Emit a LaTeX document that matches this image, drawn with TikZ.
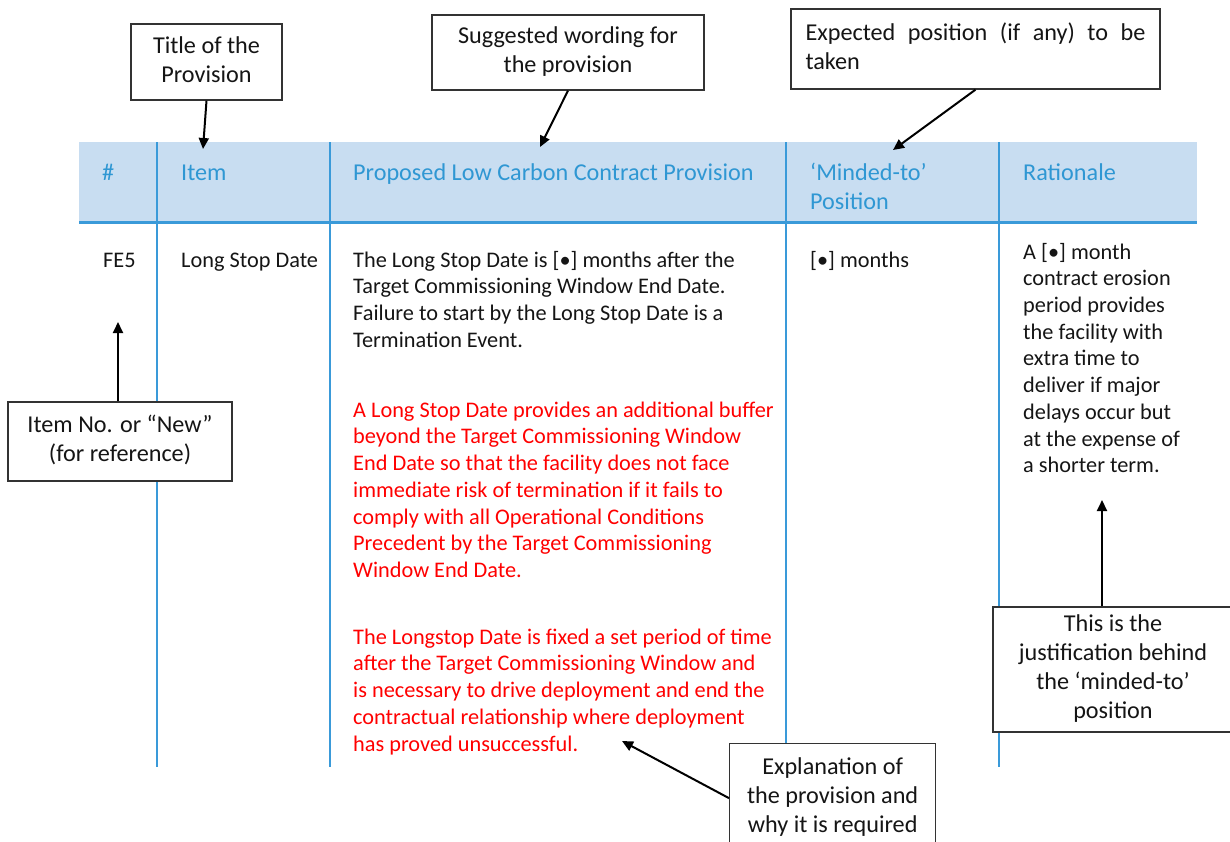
\documentclass[tikz,border=0pt]{standalone}
\usepackage{fontspec}
\setmainfont{Carlito}
\usetikzlibrary{arrows.meta}
\definecolor{band}{HTML}{C8DDF1}
\definecolor{rulecol}{HTML}{3A9AD9}
\definecolor{headcol}{HTML}{2F97D3}
\definecolor{redtxt}{HTML}{FF0000}
\definecolor{inkcol}{HTML}{151515}
\newcommand{\bodyfont}{\fontsize{22.3}{26.7}\selectfont}
\newcommand{\boxfont}{\fontsize{24.2}{29}\selectfont}
\begin{document}
\begin{tikzpicture}[x=1pt,y=-1pt,
  txt/.style={anchor=north west,inner sep=0pt,align=left,font=\bodyfont,text=inkcol},
  hd/.style={anchor=base west,inner sep=0pt,font=\boxfont,text=headcol},
  callout/.style={draw=black!80,line width=1.3pt,fill=white,align=center,font=\boxfont,inner sep=0pt,text=inkcol},
  pointer/.style={line width=2pt,-{Triangle[length=11pt,width=10pt]}},
  colrule/.style={draw=rulecol,line width=2pt}]
\useasboundingbox (0,0) rectangle (1230,841);
% header band
\fill[band] (79,142) rectangle (1197,222);
\draw[rulecol,line width=3pt] (79,222) -- (1197,222);
% column rules
\coordinate (c1t) at (157,142); \coordinate (c1b) at (157,767);
\coordinate (c2t) at (330,142); \coordinate (c2b) at (330,767);
\coordinate (c3t) at (786,142); \coordinate (c3b) at (786,767);
\coordinate (c4t) at (999,142); \coordinate (c4b) at (999,767);
\draw[colrule] (c1t) -- (c1b);
\draw[colrule] (c2t) -- (c2b);
\draw[colrule] (c3t) -- (c3b);
\draw[colrule] (c4t) -- (c4b);
% header texts
\node[hd] (hnum) at (102,180) {\#};
\node[hd] (hitem) at (181,180) {Item};
\node[hd] (hprov) at (353,180) {Proposed Low Carbon Contract Provision};
\node[anchor=north west,inner sep=0pt,align=left,font=\boxfont,text=headcol] (hpos) at (810,159.7) {\strut ‘Minded-to’\\Position};
\node[hd] (hrat) at (1023,180) {Rationale};
% body texts
\node[anchor=base west,inner sep=0pt,font=\bodyfont,text=inkcol] (fe5) at (103,267) {FE5};
\node[anchor=base west,inner sep=0pt,font=\bodyfont,text=inkcol] (lsd) at (181,267) {Long Stop Date};
\node[txt] (prov) at (353,248.3) {\strut The Long Stop Date is [•] months after the\\Target Commissioning Window End Date.\\Failure to start by the Long Stop Date is a\\Termination Event.};
\node[txt,text=redtxt] (red1) at (353,398.3) {\strut A Long Stop Date provides an additional buffer\\beyond the Target Commissioning Window\\End Date so that the facility does not face\\immediate risk of termination if it fails to\\comply with all Operational Conditions\\Precedent by the Target Commissioning\\Window End Date.};
\node[txt,text=redtxt] (red2) at (353,625.3) {\strut The Longstop Date is fixed a set period of time\\after the Target Commissioning Window and\\is necessary to drive deployment and end the\\contractual relationship where deployment\\has proved unsuccessful.};
\node[anchor=base west,inner sep=0pt,font=\bodyfont,text=inkcol] (months) at (810,267) {[•] months};
\node[txt] (rat) at (1023,240.3) {\strut A [•] month\\contract erosion\\period provides\\the facility with\\extra time to\\deliver if major\\delays occur but\\at the expense of\\a shorter term.};
% callout boxes
\node[callout,minimum width=151pt,minimum height=76pt] (bTitle) at (206.5,62) {\strut Title of the\\Provision\strut};
\node[callout,minimum width=272pt,minimum height=75pt] (bWord) at (568,52.5) {\strut Suggested wording for\\the provision\strut};
\node[callout,minimum width=369pt,minimum height=80pt,text width=340pt,align=justify] (bExp) at (975.5,49) {\strut Expected position (if any) to be\linebreak taken\strut};
\node[callout,minimum width=224pt,minimum height=79pt] (bItem) at (120,441.5) {\strut Item No. or “New”\\(for reference)\strut};
\node[callout,minimum width=240pt,minimum height=125pt] (bJust) at (1113,669.5) {\strut This is the\\justification behind\\the ‘minded-to’\\position\strut};
\node[callout,minimum width=206pt,minimum height=109pt,anchor=north west] (bExpl) at (729,743) {\strut Explanation of\\the provision and\\why it is required\strut};
% pointer tips
\coordinate (tTitle) at (203,149);
\coordinate (tWord) at (540,147);
\coordinate (tExp) at (893,150);
\coordinate (tItem) at (118,322);
\coordinate (tJust) at (1102,500);
\coordinate (tExpl) at (622,741);
\draw[pointer] (bTitle.south) -- (tTitle);
\draw[pointer] (bWord.south) -- (tWord);
\draw[pointer] (bExp.south) -- (tExp);
\draw[pointer] (tItem |- bItem.north) -- (tItem);
\draw[pointer] (tJust |- bJust.north) -- (tJust);
\draw[pointer] (bExpl.west) -- (tExpl);
\end{tikzpicture}
\end{document}
